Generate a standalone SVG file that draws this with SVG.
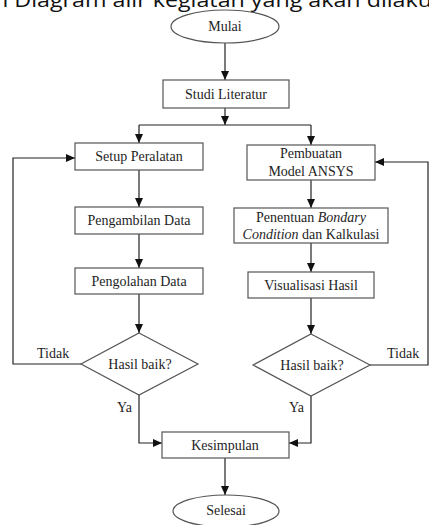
<svg xmlns="http://www.w3.org/2000/svg" width="429" height="525" viewBox="0 0 429 525">
<style>
.t{font-family:"Liberation Serif","Times New Roman",serif;font-size:14px;fill:#1e1e1e;text-anchor:middle}
.l{font-family:"Liberation Serif","Times New Roman",serif;font-size:14px;fill:#1e1e1e}
.s{fill:#fff;stroke:#555;stroke-width:1.2}
.c{fill:none;stroke:#222;stroke-width:1.2}
.h{font-family:"Open Sans","DejaVu Sans",sans-serif;font-size:20px;fill:#111}
</style>
<defs>
<marker id="a" markerWidth="10" markerHeight="8" refX="9" refY="4" orient="auto" markerUnits="userSpaceOnUse">
<path d="M0,0 L9,4 L0,8 Z" fill="#111"/>
</marker>
</defs>
<rect width="429" height="525" fill="#fff"/>
<text class="h" x="-6" y="7" textLength="438" lengthAdjust="spacingAndGlyphs">n Diagram alir kegiatan yang akan dilaku</text>

<g id="connectors">
<path class="c" d="M225,43 V80" marker-end="url(#a)"/>
<path class="c" d="M225,108 V125" marker-end="url(#a)"/>
<path class="c" d="M139,125 H311"/>
<path class="c" d="M139,125 V143" marker-end="url(#a)"/>
<path class="c" d="M311,125 V145" marker-end="url(#a)"/>
<path class="c" d="M139,170 V207" marker-end="url(#a)"/>
<path class="c" d="M139,234 V268" marker-end="url(#a)"/>
<path class="c" d="M139,294 V333" marker-end="url(#a)"/>
<path class="c" d="M81,364 H13 V158 H75" marker-end="url(#a)"/>
<path class="c" d="M139,395 V443 H162" marker-end="url(#a)"/>
<path class="c" d="M311,180 V208" marker-end="url(#a)"/>
<path class="c" d="M311,243 V272" marker-end="url(#a)"/>
<path class="c" d="M311,298 V334" marker-end="url(#a)"/>
<path class="c" d="M370,365 H428 V162 H375" marker-end="url(#a)"/>
<path class="c" d="M311,396 V443 H289" marker-end="url(#a)"/>
<path class="c" d="M225,458 V495" marker-end="url(#a)"/>
<text class="l" x="37" y="358">Tidak</text>
<text class="l" x="387" y="358">Tidak</text>
<text class="l" x="117" y="412">Ya</text>
<text class="l" x="289" y="412">Ya</text>
</g>

<g id="mulai">
<ellipse class="s" cx="225" cy="26.5" rx="54" ry="16.5"/>
<text class="t" x="225" y="31">Mulai</text>
</g>
<g id="studi">
<rect class="s" x="163" y="80" width="126" height="28"/>
<text class="t" x="226" y="99">Studi Literatur</text>
</g>
<g id="setup">
<rect class="s" x="75" y="143" width="128" height="27"/>
<text class="t" x="139" y="161">Setup Peralatan</text>
</g>
<g id="pengambilan">
<rect class="s" x="75" y="207" width="128" height="27"/>
<text class="t" x="139" y="225">Pengambilan Data</text>
</g>
<g id="pengolahan">
<rect class="s" x="75" y="268" width="128" height="26"/>
<text class="t" x="139" y="286">Pengolahan Data</text>
</g>
<g id="hasil1">
<polygon class="s" points="139,333 198,364 139,395 81,364"/>
<text class="t" x="140" y="369">Hasil baik?</text>
</g>
<g id="pembuatan">
<rect class="s" x="247" y="145" width="128" height="35"/>
<text class="t" x="311" y="158">Pembuatan</text>
<text class="t" x="311" y="176">Model ANSYS</text>
</g>
<g id="penentuan">
<rect class="s" x="234" y="208" width="154" height="35"/>
<text class="t" x="311" y="222">Penentuan <tspan font-style="italic">Bondary</tspan></text>
<text class="t" x="311" y="239"><tspan font-style="italic">Condition</tspan> dan Kalkulasi</text>
</g>
<g id="visualisasi">
<rect class="s" x="248" y="272" width="126" height="26"/>
<text class="t" x="311" y="290">Visualisasi Hasil</text>
</g>
<g id="hasil2">
<polygon class="s" points="311,334 370,365 311,396 253,365"/>
<text class="t" x="312" y="370">Hasil baik?</text>
</g>
<g id="kesimpulan">
<rect class="s" x="162" y="432" width="127" height="26"/>
<text class="t" x="225" y="450">Kesimpulan</text>
</g>
<g id="selesai">
<ellipse class="s" cx="226" cy="511" rx="53" ry="16"/>
<text class="t" x="226" y="515">Selesai</text>
</g>
</svg>
